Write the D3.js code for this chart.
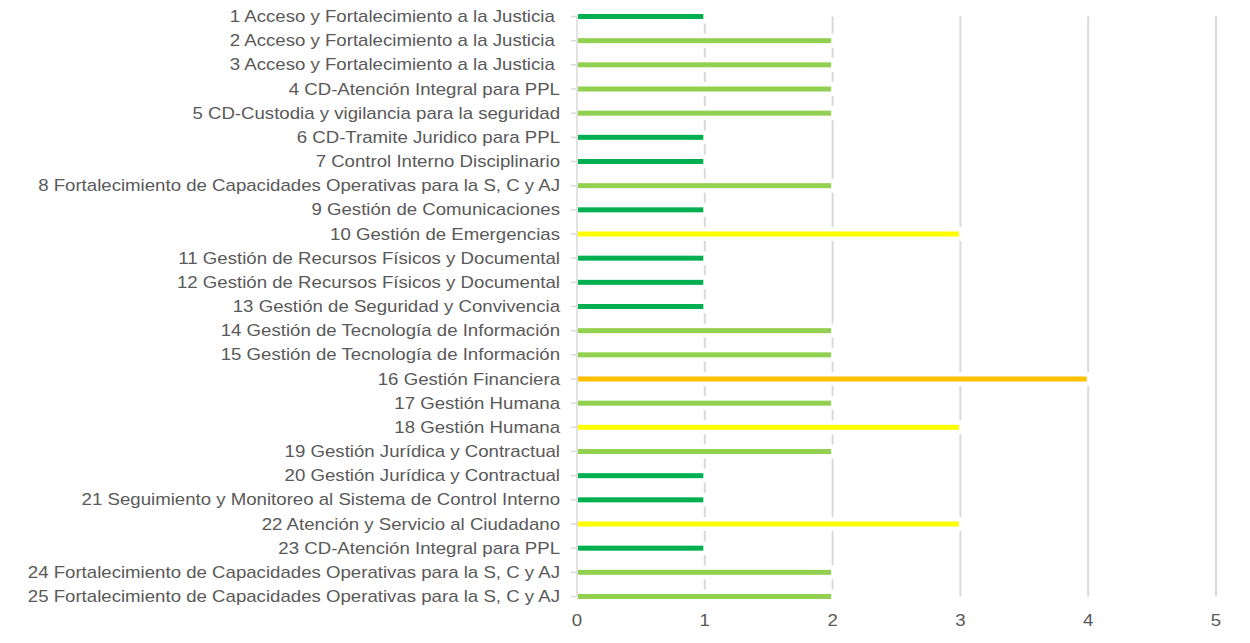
<!DOCTYPE html>
<meta charset="utf-8">
<style>
html, body { margin: 0; padding: 0; background: #fff; overflow: hidden; }
svg { display: block; }
.label { font-family: "Liberation Sans", Arial, sans-serif; font-size: 16px; fill: #595959; white-space: pre; }
</style>
<svg width="1250" height="643"></svg>
<script src="https://d3js.org/d3.v7.min.js"></script>
<script>

var categories = [
  "1 Acceso y Fortalecimiento a la Justicia ",
  "2 Acceso y Fortalecimiento a la Justicia ",
  "3 Acceso y Fortalecimiento a la Justicia ",
  "4 CD-Atención Integral para PPL",
  "5 CD-Custodia y vigilancia para la seguridad",
  "6 CD-Tramite Juridico para PPL",
  "7 Control Interno Disciplinario",
  "8 Fortalecimiento de Capacidades Operativas para la S, C y AJ",
  "9 Gestión de Comunicaciones",
  "10 Gestión de Emergencias",
  "11 Gestión de Recursos Físicos y Documental",
  "12 Gestión de Recursos Físicos y Documental",
  "13 Gestión de Seguridad y Convivencia",
  "14 Gestión de Tecnología de Información",
  "15 Gestión de Tecnología de Información",
  "16 Gestión Financiera",
  "17 Gestión Humana",
  "18 Gestión Humana",
  "19 Gestión Jurídica y Contractual",
  "20 Gestión Jurídica y Contractual",
  "21 Seguimiento y Monitoreo al Sistema de Control Interno",
  "22 Atención y Servicio al Ciudadano",
  "23 CD-Atención Integral para PPL",
  "24 Fortalecimiento de Capacidades Operativas para la S, C y AJ",
  "25 Fortalecimiento de Capacidades Operativas para la S, C y AJ"
];
var values = [1, 2, 2, 2, 2, 1, 1, 2, 1, 3, 1, 1, 1, 2, 2, 4, 2, 3, 2, 1, 1, 3, 1, 2, 2];
var xTicks = [0, 1, 2, 3, 4, 5];
var levelColors = ["#00B050", "#92D050", "#FFFF00", "#FFC000"];

// the original picture is stretched sideways, so text is widened to match
var stretch = 1.165;

var svg = d3.select("svg");

var x = d3.scaleLinear().domain([0, 5]).range([577, 1216]);
var y = d3.scalePoint().domain(d3.range(categories.length)).range([16.5, 596.5]);
var color = d3.scaleOrdinal().domain([1, 2, 3, 4]).range(levelColors);

// vertical gridlines
svg.append("g").selectAll("line")
  .data(xTicks.slice(1))
  .join("line")
    .attr("x1", d => x(d)).attr("x2", d => x(d))
    .attr("y1", y(0)).attr("y2", y(categories.length - 1))
    .attr("stroke", "#d9d9d9").attr("stroke-width", 2);

// category axis line and ticks
var axis = svg.append("g");
axis.append("line")
  .attr("x1", x(0)).attr("x2", x(0))
  .attr("y1", y(0)).attr("y2", y(categories.length - 1))
  .attr("stroke", "#d9d9d9").attr("stroke-width", 1.5);
axis.selectAll(".tick")
  .data(d3.range(categories.length))
  .join("line")
    .attr("x1", x(0) - 6).attr("x2", x(0))
    .attr("y1", d => y(d)).attr("y2", d => y(d))
    .attr("stroke", "#d9d9d9").attr("stroke-width", 1.5);

// bars with white halo that breaks the gridlines
var bars = svg.append("g").selectAll("g")
  .data(values)
  .join("g");
bars.append("rect")
    .attr("x", x(0) + 1)
    .attr("y", (d, i) => y(i) - 7)
    .attr("width", d => x(d) - x(0) + 2)
    .attr("height", 14)
    .attr("fill", "#fff");
bars.append("rect")
    .attr("x", x(0) + 1)
    .attr("y", (d, i) => y(i) - 2.5)
    .attr("width", d => x(d) - x(0) - 2.5)
    .attr("height", 5)
    .attr("fill", d => color(d));

// category labels
svg.append("g").selectAll("text")
  .data(categories)
  .join("text")
    .attr("class", "label")
    .attr("transform", (d, i) => "translate(560," + y(i) + ") scale(" + stretch + ",1)")
    .attr("dy", "0.35em")
    .attr("text-anchor", "end")
    .text(d => d);

// value axis labels
svg.append("g").selectAll("text")
  .data(xTicks)
  .join("text")
    .attr("class", "label")
    .attr("transform", d => "translate(" + x(d) + ",626) scale(" + stretch + ",1)")
    .attr("text-anchor", "middle")
    .text(d => d);

</script>
